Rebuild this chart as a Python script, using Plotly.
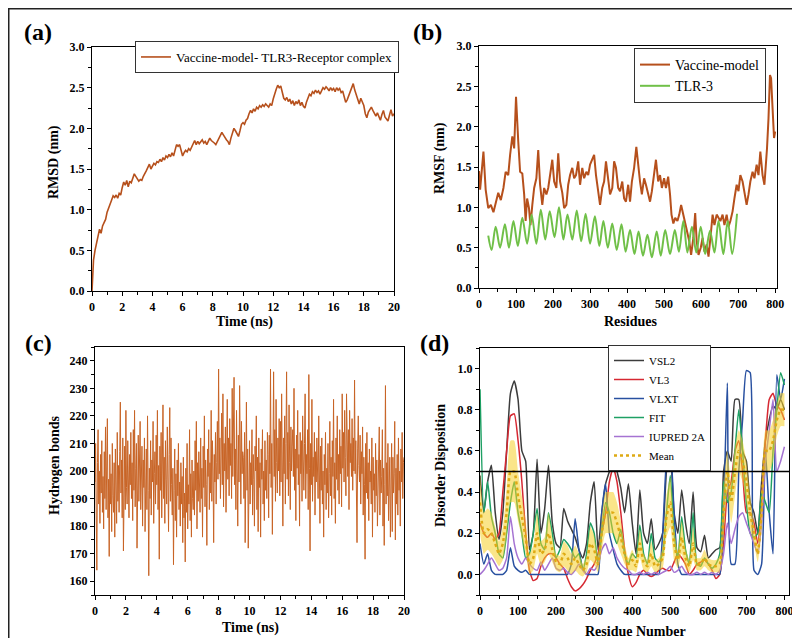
import numpy as np
import plotly.graph_objects as go

SERIF = "Liberation Serif, Times New Roman, serif"

# ---------------- (a) RMSD ----------------
rmsd_time = np.round(np.arange(0, 20.0001, 0.1), 2)
rmsd_nm = [
    0.00, 0.38, 0.50, 0.58, 0.66, 0.76, 0.71, 0.80, 0.84, 0.88,
    0.97, 1.03, 1.08, 1.12, 1.17, 1.15, 1.18, 1.14, 1.20, 1.18,
    1.27, 1.34, 1.30, 1.36, 1.28, 1.35, 1.33, 1.39, 1.44, 1.41,
    1.38, 1.35, 1.37, 1.36, 1.41, 1.44, 1.48, 1.52, 1.56, 1.50,
    1.54, 1.57, 1.55, 1.59, 1.58, 1.62, 1.59, 1.64, 1.61, 1.66,
    1.64, 1.68, 1.65, 1.70, 1.66, 1.74, 1.80, 1.78, 1.80, 1.73,
    1.66, 1.70, 1.73, 1.71, 1.75, 1.73, 1.77, 1.81, 1.85, 1.80,
    1.84, 1.81, 1.83, 1.86, 1.82, 1.84, 1.80, 1.84, 1.88, 1.85,
    1.84, 1.82, 1.80, 1.84, 1.87, 1.90, 1.95, 1.92, 1.88, 1.86,
    1.84, 1.80, 1.88, 1.95, 2.00, 1.97, 1.93, 1.90, 1.97, 2.05,
    2.07, 2.05, 2.10, 2.12, 2.18, 2.22, 2.19, 2.24, 2.21, 2.26,
    2.24, 2.28, 2.26, 2.29, 2.27, 2.30, 2.28, 2.26, 2.30, 2.28,
    2.36, 2.44, 2.48, 2.53, 2.50, 2.52, 2.44, 2.37, 2.35, 2.38,
    2.33, 2.36, 2.30, 2.34, 2.28, 2.33, 2.30, 2.35, 2.28, 2.32,
    2.27, 2.25, 2.32, 2.38, 2.42, 2.40, 2.45, 2.43, 2.47, 2.44,
    2.46, 2.42, 2.47, 2.50, 2.48, 2.51, 2.49, 2.46, 2.50, 2.47,
    2.49, 2.45, 2.50, 2.47, 2.49, 2.44, 2.46, 2.38, 2.32, 2.35,
    2.40, 2.46, 2.52, 2.55, 2.47, 2.42, 2.36, 2.30, 2.37, 2.33,
    2.28, 2.18, 2.13, 2.20, 2.24, 2.26, 2.22, 2.18, 2.15, 2.19,
    2.13, 2.10, 2.17, 2.22, 2.14, 2.11, 2.09, 2.16, 2.23, 2.15,
    2.18,
]

# ---------------- (b) RMSF ----------------
vac_res = [0, 3, 12, 18, 25, 32, 39, 45, 52, 59, 66, 72, 79, 84, 90, 95, 100, 106, 111, 117,
           122, 126, 130, 135, 139, 144, 149, 155, 160, 165, 171, 176, 182, 187, 192, 198, 203, 209, 214, 219,
           225, 230, 236, 241, 246, 252, 257, 262, 268, 273, 279, 284, 290, 295, 300, 306, 311, 316, 322, 327,
           333, 338, 343, 349, 354, 360, 365, 370, 376, 381, 387, 392, 397, 403, 408, 413, 419, 425, 430, 435,
           440, 446, 451, 457, 462, 467, 473, 478, 484, 489, 494, 500, 505, 511, 516, 520, 525, 530, 536, 541,
           546, 552, 557, 563, 568, 573, 579, 584, 588, 593, 599, 604, 609, 615, 620, 626, 631, 636, 642, 647,
           652, 658, 663, 669, 674, 679, 685, 690, 696, 701, 706, 712, 717, 723, 728, 733, 739, 744, 750, 755,
           760, 766, 771, 775, 778, 782, 786, 789, 793, 797, 800]
vac_rmsf = [1.45, 1.22, 1.69, 1.22, 0.99, 1.03, 0.94, 1.07, 1.18, 1.09, 1.24, 1.44, 1.40, 1.65, 1.88, 1.73, 2.37, 1.82, 1.44, 1.42,
            1.16, 0.83, 1.11, 0.99, 0.78, 1.03, 1.24, 1.36, 1.71, 1.28, 1.03, 1.24, 1.16, 1.24, 1.40, 1.59, 1.32, 1.24, 1.67, 1.32,
            1.18, 0.99, 1.03, 1.28, 1.40, 1.49, 1.36, 1.40, 1.57, 1.28, 1.49, 1.36, 1.44, 1.40, 1.53, 1.61, 1.65, 1.40, 1.16, 1.03,
            1.24, 1.32, 1.57, 1.32, 1.16, 1.24, 1.57, 1.49, 1.24, 1.20, 1.32, 1.11, 1.07, 1.28, 1.07, 1.32, 1.49, 1.75, 1.49, 1.32,
            1.16, 1.36, 1.28, 1.16, 1.07, 1.20, 1.40, 1.59, 1.32, 1.40, 1.24, 1.36, 1.24, 1.38, 1.16, 0.91, 0.80, 0.87, 0.83, 0.91,
            1.03, 0.91, 0.78, 0.70, 0.58, 0.41, 0.62, 0.93, 0.58, 0.41, 0.50, 0.62, 0.45, 0.54, 0.39, 0.66, 0.91, 0.78, 0.91, 0.87,
            0.83, 0.91, 0.78, 0.91, 0.76, 0.83, 0.95, 1.11, 1.28, 1.20, 1.40, 1.32, 1.16, 1.03, 1.16, 1.32, 1.44, 1.36, 1.53, 1.40,
            1.69, 1.40, 1.28, 1.49, 1.73, 2.10, 2.64, 2.60, 2.23, 1.86, 1.94]

tlr_res = [25, 34, 45, 57, 70, 81, 93, 105, 117, 130, 142, 155, 167, 179, 191, 204, 216, 228, 239, 252,
           264, 276, 288, 300, 313, 325, 336, 348, 360, 372, 385, 396, 408, 420, 431, 443, 455, 467, 480, 491,
           503, 516, 529, 540, 552, 563, 575, 587, 599, 611, 624, 636, 647, 660, 672, 684, 697]
tlr_rmsf = [0.65, 0.47, 0.76, 0.50, 0.79, 0.50, 0.83, 0.52, 0.87, 0.55, 0.91, 0.55, 0.97, 0.60, 0.95, 0.63, 1.00, 0.60, 0.91, 0.60,
            0.96, 0.58, 0.92, 0.55, 0.89, 0.52, 0.83, 0.50, 0.80, 0.47, 0.79, 0.45, 0.72, 0.42, 0.70, 0.40, 0.66, 0.38, 0.70, 0.40,
            0.72, 0.42, 0.72, 0.45, 0.83, 0.44, 0.76, 0.44, 0.76, 0.42, 0.71, 0.44, 0.83, 0.42, 0.83, 0.42, 0.92]

# ---------------- (c) Hydrogen bonds (every 0.04 ns) ----------------
hb_time = np.round(np.arange(0, 20.0001, 0.04), 2)
hbonds = [
    196, 210, 184, 164, 203, 215, 188, 200, 181, 206, 192, 211, 185, 198, 179, 207, 190, 216, 186, 201,
    219, 183, 197, 169, 206, 188, 199, 178, 210, 191, 185, 203, 176, 208, 194, 181, 214, 189, 202, 185,
    207, 225, 192, 204, 183, 212, 171, 199, 209, 186, 222, 194, 188, 211, 198, 183, 206, 195, 214, 190,
    203, 182, 215, 193, 222, 187, 201, 210, 172, 196, 213, 189, 205, 218, 186, 199, 209, 180, 204, 194,
    212, 178, 197, 208, 186, 220, 193, 162, 201, 190, 211, 184, 204, 196, 218, 181, 199, 207, 188, 213,
    195, 222, 186, 202, 168, 209, 193, 214, 183, 198, 224, 190, 205, 181, 211, 197, 188, 216, 200, 178,
    206, 223, 189, 212, 195, 184, 201, 166, 193, 208, 182, 199, 176, 204, 191, 210, 186, 196, 180, 203,
    188, 198, 174, 205, 183, 192, 167, 201, 185, 210, 179, 195, 188, 215, 182, 199, 176, 204, 190, 186,
    200, 184, 211, 193, 218, 179, 203, 189, 207, 196, 185, 212, 190, 201, 176, 209, 194, 220, 187, 204,
    195, 173, 208, 198, 215, 186, 203, 192, 222, 189, 211, 200, 174, 206, 196, 214, 188, 203, 218, 197,
    237, 199, 212, 190, 206, 221, 195, 228, 187, 210, 200, 216, 185, 205, 226, 197, 212, 191, 219, 202,
    210, 190, 230, 198, 214, 234, 195, 208, 186, 222, 200, 180, 213, 196, 231, 204, 188, 218, 199, 207,
    205, 190, 214, 174, 201, 225, 193, 208, 172, 199, 211, 188, 203, 195, 215, 184, 206, 197, 180, 209,
    200, 220, 186, 205, 178, 212, 194, 203, 176, 208, 197, 215, 188, 200, 182, 211, 193, 204, 190, 214,
    206, 183, 213, 199, 237, 194, 210, 177, 204, 236, 198, 215, 189, 226, 203, 192, 212, 200, 219, 191,
    218, 196, 228, 205, 180, 212, 199, 220, 188, 210, 236, 197, 214, 191, 224, 203, 186, 216, 200, 209,
    215, 198, 230, 193, 208, 182, 213, 201, 222, 195, 206, 180, 214, 199, 211, 189, 220, 204, 193, 210,
    228, 190, 206, 199, 215, 186, 235, 201, 171, 210, 195, 226, 189, 205, 198, 214, 184, 207, 196, 212,
    205, 190, 220, 198, 181, 209, 193, 212, 188, 200, 176, 206, 195, 214, 186, 201, 192, 210, 183, 199,
    218, 191, 205, 184, 211, 198, 226, 190, 203, 181, 212, 197, 220, 193, 206, 188, 215, 199, 209, 187,
    228, 201, 214, 196, 222, 205, 191, 228, 207, 198, 215, 186, 222, 203, 210, 198, 219, 193, 212, 200,
    233, 199, 211, 192, 174, 208, 220, 202, 196, 213, 188, 207, 199, 216, 184, 205, 195, 168, 210, 192,
    214, 190, 203, 182, 208, 196, 200, 188, 212, 176, 205, 193, 199, 185, 210, 191, 204, 180, 197, 206,
    216, 184, 204, 192, 198, 215, 180, 201, 173, 195, 231, 188, 203, 191, 210, 182, 198, 205, 176, 200,
    210, 178, 205, 192, 199, 218, 175, 201, 188, 206, 184, 212, 193, 200, 180, 208, 196, 214, 190, 203,
    205,
]

# ---------------- (d) Disorder ----------------
residue_num = list(range(0, 801, 10))
vsl2 = [0.48, 0.30, 0.45, 0.53, 0.30, 0.17, 0.30, 0.60, 0.88, 0.94,
        0.85, 0.60, 0.55, 0.12, 0.20, 0.56, 0.20, 0.32, 0.53, 0.25,
        0.15, 0.13, 0.32, 0.26, 0.22, 0.18, 0.12, 0.08, 0.15, 0.35,
        0.45, 0.12, 0.30, 0.44, 0.50, 0.56, 0.50, 0.42, 0.30, 0.44,
        0.25, 0.10, 0.41, 0.20, 0.15, 0.27, 0.12, 0.15, 0.20, 0.50,
        0.60, 0.30, 0.20, 0.41, 0.25, 0.15, 0.40, 0.13, 0.11, 0.19,
        0.08, 0.10, 0.12, 0.13, 0.50, 0.60, 0.55, 0.85, 0.85, 0.60,
        0.55, 0.35, 0.30, 0.20, 0.45, 0.65, 0.75, 0.82, 0.80, 0.85,
        0.80]
vl3 = [0.25, 0.20, 0.18, 0.20, 0.17, 0.20, 0.40, 0.60, 0.77, 0.78,
       0.65, 0.45, 0.20, 0.02, -0.03, -0.02, 0.04, 0.08, 0.10, 0.10,
       0.08, 0.05, 0.03, -0.02, -0.06, -0.08, -0.07, -0.05, -0.02, 0.02,
       0.05, 0.10, 0.20, 0.30, 0.45, 0.52, 0.45, 0.30, 0.12, 0.00,
       -0.06, -0.04, 0.00, 0.02, 0.00, -0.01, 0.00, 0.02, 0.03, 0.02,
       0.02, 0.06, 0.10, 0.08, 0.05, 0.00, 0.02, 0.05, 0.06, 0.07,
       0.05, 0.02, -0.02, 0.00, 0.15, 0.40, 0.45, 0.60, 0.65, 0.50,
       0.30, 0.30, 0.25, 0.15, 0.35, 0.65, 0.85, 0.88, 0.82, 0.80,
       0.75]
vlxt = [0.15, 0.05, 0.10, 0.02, 0.00, 0.00, 0.00, 0.02, 0.13, 0.04,
        0.02, 0.01, 0.02, 0.00, 0.00, 0.00, 0.00, 0.00, 0.00, 0.00,
        0.00, 0.00, 0.00, 0.00, 0.05, 0.27, 0.12, 0.03, 0.00, 0.00,
        0.00, 0.00, 0.30, 0.44, 0.20, 0.12, 0.05, 0.02, 0.00, 0.00,
        0.00, 0.00, 0.00, 0.00, 0.00, 0.00, 0.00, 0.00, 0.20, 0.55,
        0.63, 0.30, 0.05, 0.00, 0.00, 0.00, 0.00, 0.00, 0.00, 0.00,
        0.00, 0.00, 0.00, 0.00, 0.30, 0.93, 0.05, 0.05, 0.50, 0.75,
        0.99, 0.98, 0.02, 0.00, 0.05, 0.60, 0.30, 0.10, 0.97, 0.85,
        0.95]
fit = [0.90, 0.30, 0.45, 0.28, 0.20, 0.10, 0.08, 0.20, 0.35, 0.45,
       0.30, 0.20, 0.08, 0.10, 0.20, 0.32, 0.15, 0.12, 0.30, 0.20,
       0.08, 0.12, 0.17, 0.15, 0.12, 0.08, 0.10, 0.02, 0.10, 0.25,
       0.20, 0.05, 0.20, 0.35, 0.30, 0.20, 0.15, 0.22, 0.10, 0.05,
       0.10, 0.08, 0.24, 0.10, 0.05, 0.20, 0.08, 0.06, 0.10, 0.30,
       0.48, 0.20, 0.08, 0.28, 0.12, 0.05, 0.30, 0.05, 0.04, 0.08,
       0.05, 0.03, 0.05, 0.10, 0.45, 0.35, 0.40, 0.60, 0.80, 0.60,
       0.35, 0.20, 0.18, 0.20, 0.40, 0.35, 0.30, 0.60, 0.80, 0.98,
       0.92]
iupred = [0.00, 0.02, 0.05, 0.08, 0.05, 0.02, 0.03, 0.08, 0.28, 0.15,
          0.08, 0.05, 0.08, 0.05, 0.03, 0.02, 0.06, 0.02, 0.05, 0.08,
          0.03, 0.02, 0.03, 0.01, 0.00, 0.02, 0.05, 0.02, 0.00, 0.03,
          0.02, 0.05, 0.12, 0.15, 0.10, 0.13, 0.08, 0.05, 0.03, 0.02,
          0.00, 0.00, 0.01, 0.00, 0.01, 0.00, 0.01, 0.00, 0.01, 0.02,
          0.04, 0.01, 0.02, 0.04, 0.01, 0.00, 0.00, 0.01, 0.00, 0.01,
          0.00, 0.01, 0.00, 0.02, 0.10, 0.25, 0.15, 0.22, 0.28, 0.30,
          0.25, 0.20, 0.15, 0.10, 0.25, 0.55, 0.70, 0.85, 0.50, 0.55,
          0.62]
mean_dis = [0.35, 0.20, 0.22, 0.20, 0.15, 0.10, 0.15, 0.30, 0.50, 0.50,
            0.38, 0.28, 0.18, 0.05, 0.08, 0.20, 0.10, 0.12, 0.20, 0.12,
            0.06, 0.05, 0.10, 0.08, 0.05, 0.08, 0.05, 0.02, 0.05, 0.15,
            0.12, 0.05, 0.20, 0.30, 0.30, 0.30, 0.25, 0.18, 0.10, 0.05,
            0.07, 0.04, 0.15, 0.06, 0.04, 0.10, 0.04, 0.05, 0.08, 0.28,
            0.35, 0.15, 0.07, 0.18, 0.08, 0.04, 0.15, 0.05, 0.05, 0.08,
            0.05, 0.04, 0.04, 0.05, 0.30, 0.50, 0.35, 0.50, 0.60, 0.55,
            0.45, 0.30, 0.20, 0.10, 0.30, 0.60, 0.60, 0.65, 0.75, 0.80,
            0.80]
mean_sd = [0.15, 0.10, 0.10, 0.10, 0.08, 0.06, 0.08, 0.12, 0.15, 0.15,
           0.12, 0.10, 0.08, 0.05, 0.06, 0.10, 0.06, 0.06, 0.10, 0.06,
           0.04, 0.04, 0.06, 0.06, 0.05, 0.06, 0.05, 0.03, 0.04, 0.08,
           0.07, 0.04, 0.08, 0.10, 0.10, 0.10, 0.10, 0.08, 0.05, 0.03,
           0.05, 0.03, 0.07, 0.04, 0.03, 0.06, 0.03, 0.03, 0.05, 0.10,
           0.12, 0.08, 0.04, 0.08, 0.05, 0.03, 0.08, 0.03, 0.03, 0.04,
           0.03, 0.03, 0.03, 0.04, 0.12, 0.10, 0.10, 0.12, 0.10, 0.10,
           0.10, 0.08, 0.05, 0.04, 0.08, 0.10, 0.10, 0.10, 0.08, 0.08,
           0.08]
disorder_threshold = 0.5

# ---------------- figure ----------------
W, H = 800, 638


def xd(a, b):
    return [a / W, b / W]


def yd(top, bottom):
    return [1 - bottom / H, 1 - top / H]


BROWN = "rgb(182,80,28)"
fig = go.Figure()

fig.add_trace(go.Scatter(x=rmsd_time, y=rmsd_nm, mode="lines", name="Vaccine-model- TLR3-Receptor complex",
                         line=dict(color=BROWN, width=1.6), xaxis="x", yaxis="y", legend="legend"))

fig.add_trace(go.Scatter(x=vac_res, y=vac_rmsf, mode="lines", name="Vaccine-model",
                         line=dict(color=BROWN, width=2), xaxis="x2", yaxis="y2", legend="legend2"))
fig.add_trace(go.Scatter(x=tlr_res, y=tlr_rmsf, mode="lines", name="TLR-3",
                         line=dict(color="rgb(112,192,72)", width=2, shape="spline", smoothing=0.9),
                         xaxis="x2", yaxis="y2", legend="legend2"))

fig.add_trace(go.Scatter(x=hb_time, y=hbonds, mode="lines", name="Hydrogen bonds", showlegend=False,
                         line=dict(color="rgb(200,100,38)", width=1.0), xaxis="x3", yaxis="y3"))

dis_series = [("VSL2", vsl2, "rgb(60,60,60)"), ("VL3", vl3, "rgb(214,40,50)"),
              ("VLXT", vlxt, "rgb(40,80,160)"), ("FIT", fit, "rgb(30,160,100)"),
              ("IUPRED 2A", iupred, "rgb(165,115,210)")]
for nm, vals, col in dis_series:
    fig.add_trace(go.Scatter(x=residue_num, y=vals, mode="lines", name=nm,
                             line=dict(color=col, width=1.5, shape="spline", smoothing=0.5),
                             xaxis="x4", yaxis="y4", legend="legend3"))
upper = [m + s for m, s in zip(mean_dis, mean_sd)]
lower = [m - s for m, s in zip(mean_dis, mean_sd)]
fig.add_trace(go.Scatter(x=residue_num, y=upper, mode="lines", line=dict(width=0, shape="spline", smoothing=0.5),
                         showlegend=False, hoverinfo="skip", xaxis="x4", yaxis="y4"))
fig.add_trace(go.Scatter(x=residue_num, y=lower, mode="lines", line=dict(width=0, shape="spline", smoothing=0.5),
                         fill="tonexty", fillcolor="rgba(246,208,40,0.55)",
                         showlegend=False, hoverinfo="skip", xaxis="x4", yaxis="y4"))
fig.add_trace(go.Scatter(x=residue_num, y=mean_dis, mode="lines", name="Mean",
                         line=dict(color="rgb(222,170,20)", width=2.5, dash="dot", shape="spline", smoothing=0.5),
                         xaxis="x4", yaxis="y4", legend="legend3"))

TICKFONT = dict(family=SERIF, size=12, color="black", weight="bold")


def ax(domain, rng, dtick, minor_dtick, anchor, tick0=0):
    return dict(domain=domain, range=rng, dtick=dtick, tick0=tick0, anchor=anchor,
                showline=True, linecolor="black", linewidth=1.3, mirror=True,
                ticks="outside", ticklen=4, tickwidth=1.2, tickcolor="black",
                showgrid=False, zeroline=False, tickfont=TICKFONT, automargin=False,
                minor=dict(ticks="outside", ticklen=2.5, tickwidth=1, tickcolor="black",
                           dtick=minor_dtick, showgrid=False))


LEGFONT = dict(family=SERIF, size=13, color="black", weight="normal")
fig.update_layout(
    width=W, height=H, margin=dict(l=0, r=0, t=0, b=0),
    paper_bgcolor="white", plot_bgcolor="white",
    font=dict(family=SERIF, color="black"),
    xaxis=ax(xd(84, 386), [0, 20], 2, 1, "y"),
    yaxis=dict(ax(yd(39, 283), [0, 3], 0.5, 0.25, "x"), tickformat=".1f"),
    xaxis2=ax(xd(471, 769), [0, 805], 100, 50, "y2"),
    yaxis2=dict(ax(yd(38, 280), [0, 3], 0.5, 0.25, "x2"), tickformat=".1f"),
    xaxis3=ax(xd(87, 396), [0, 20], 2, 1, "y3"),
    yaxis3=ax(yd(339, 587), [155, 245], 10, 5, "x3", tick0=160),
    xaxis4=ax(xd(472, 781), [0, 812], 100, 50, "y4"),
    yaxis4=dict(ax(yd(340, 587), [-0.1, 1.1], 0.2, 0.1, "x4"), tickformat=".1f"),
    legend=dict(x=127 / W, y=1 - 33 / H, xanchor="left", yanchor="top", bgcolor="white",
                bordercolor="#333", borderwidth=1, font=LEGFONT, tracegroupgap=0),
    legend2=dict(x=626 / W, y=1 - 40 / H, xanchor="left", yanchor="top", bgcolor="white",
                 bordercolor="#333", borderwidth=1, font=dict(LEGFONT, size=14), tracegroupgap=0),
    legend3=dict(x=600 / W, y=1 - 337 / H, xanchor="left", yanchor="top", bgcolor="white",
                 bordercolor="#333", borderwidth=1, font=dict(LEGFONT, size=11), tracegroupgap=0),
)

fig.add_shape(type="line", xref="x4 domain", x0=0, x1=1, yref="y4", y0=disorder_threshold, y1=disorder_threshold,
              line=dict(color="black", width=1.3))
fig.add_shape(type="rect", xref="paper", yref="paper", x0=0, x1=1, y0=0, y1=1,
              line=dict(color="#222", width=3), fillcolor="rgba(0,0,0,0)")

TITLEFONT = dict(family=SERIF, size=14, color="black", weight="bold")
PANELFONT = dict(family=SERIF, size=24, color="black", weight="bold")


def ann(text, x, y, font, angle=0):
    fig.add_annotation(text=text, x=x / W, y=1 - y / H, xref="paper", yref="paper",
                       showarrow=False, font=font, textangle=angle, xanchor="center", yanchor="middle")


ann("(a)", 30, 24, PANELFONT)
ann("(b)", 419, 24, PANELFONT)
ann("(c)", 30, 335, PANELFONT)
ann("(d)", 427, 335, PANELFONT)
ann("Time (ns)", 236, 314, TITLEFONT)
ann("RMSD (nm)", 46, 154, TITLEFONT, -90)
ann("Residues", 622, 313, TITLEFONT)
ann("RMSF (nm)", 432, 150, TITLEFONT, -90)
ann("Time (ns)", 242, 620, TITLEFONT)
ann("Hydrogen bonds", 46, 458, TITLEFONT, -90)
ann("Residue Number", 627, 623, TITLEFONT)
ann("Disorder Disposition", 432, 458, TITLEFONT, -90)

fig.write_html("out.html")
